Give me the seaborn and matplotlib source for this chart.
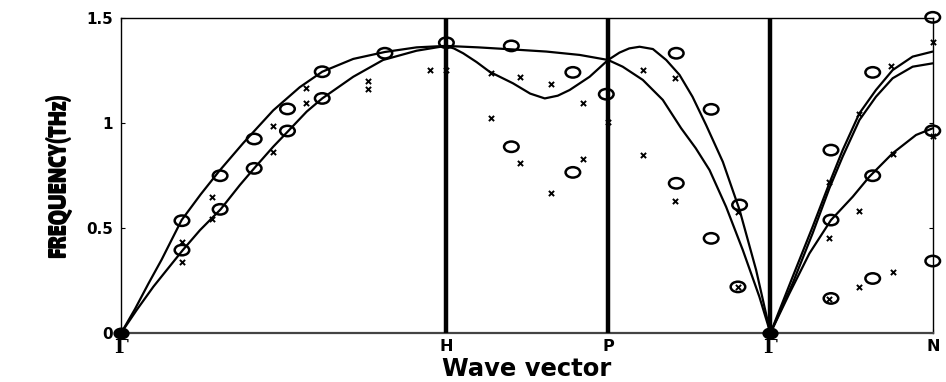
import matplotlib
matplotlib.use('Agg')
import matplotlib.pyplot as plt
import seaborn as sns
from matplotlib import font_manager
from matplotlib.path import Path
from matplotlib.transforms import Affine2D

sns.set_style('ticks')
plt.rcParams['font.family'] = ['DejaVu Sans']
plt.rcParams['text.color'] = 'black'
plt.rcParams['axes.labelcolor'] = 'black'
plt.rcParams['xtick.color'] = 'black'
plt.rcParams['ytick.color'] = 'black'

# symmetry points along the path
sym_pos = [0, 2, 3, 4, 5]
sym_labels = ['Γ', 'H', 'P', 'Γ', 'N']
sym_lines = [2, 3, 4]

# calculated branches
gh_up_x = [0, 0.086, 0.168, 0.25, 0.312, 0.373, 0.49, 0.603, 0.753, 0.937, 1.10, 1.239, 1.43, 1.625, 1.82, 2.0]
gh_up_y = [0, 0.115, 0.235, 0.35, 0.445, 0.538, 0.66, 0.77, 0.905, 1.06, 1.17, 1.244, 1.305, 1.338, 1.36, 1.367]
gh_lo_x = [0, 0.096, 0.199, 0.281, 0.38, 0.486, 0.613, 0.732, 0.825, 0.937, 1.03, 1.143, 1.239, 1.43, 1.614, 1.82, 2.0]
gh_lo_y = [0, 0.11, 0.221, 0.30, 0.395, 0.49, 0.589, 0.705, 0.789, 0.887, 0.962, 1.054, 1.117, 1.22, 1.30, 1.344, 1.367]

hp_a_x = [2.0, 2.2, 2.394, 2.62, 2.825, 3.0]
hp_a_y = [1.367, 1.36, 1.351, 1.34, 1.324, 1.30]
hp_b_x = [2.0, 2.05, 2.107, 2.19, 2.27, 2.414, 2.52, 2.61, 2.69, 2.763, 2.886, 3.0]
hp_b_y = [1.367, 1.355, 1.332, 1.29, 1.244, 1.189, 1.14, 1.117, 1.13, 1.157, 1.22, 1.30]

pg_a_x = [3.0, 3.07, 3.13, 3.194, 3.276, 3.358, 3.44, 3.52, 3.604, 3.707, 3.81, 3.912, 4.0]
pg_a_y = [1.30, 1.335, 1.355, 1.363, 1.352, 1.30, 1.229, 1.125, 0.99, 0.815, 0.586, 0.30, 0]
pg_b_x = [3.0, 3.09, 3.214, 3.337, 3.45, 3.54, 3.625, 3.727, 3.83, 3.932, 4.0]
pg_b_y = [1.30, 1.268, 1.205, 1.11, 0.975, 0.88, 0.776, 0.601, 0.395, 0.173, 0]

gn_1_x = [4.0, 4.137, 4.26, 4.363, 4.445, 4.548, 4.65, 4.753, 4.876, 5.0]
gn_1_y = [0, 0.268, 0.506, 0.713, 0.871, 1.046, 1.157, 1.252, 1.316, 1.34]
gn_2_x = [4.0, 4.137, 4.26, 4.363, 4.445, 4.548, 4.65, 4.753, 4.876, 5.0]
gn_2_y = [0, 0.237, 0.475, 0.689, 0.84, 1.014, 1.125, 1.213, 1.268, 1.284]
gn_3_x = [4.0, 4.117, 4.24, 4.373, 4.507, 4.609, 4.753, 4.897, 5.0]
gn_3_y = [0, 0.189, 0.379, 0.538, 0.649, 0.744, 0.856, 0.943, 0.975]

branches = [(gh_up_x, gh_up_y), (gh_lo_x, gh_lo_y), (hp_a_x, hp_a_y), (hp_b_x, hp_b_y),
            (pg_a_x, pg_a_y), (pg_b_x, pg_b_y), (gn_1_x, gn_1_y), (gn_2_x, gn_2_y),
            (gn_3_x, gn_3_y)]

# experimental points, set 1 (circles)
circ_x = [0.375, 0.375, 0.61, 0.61, 0.82, 0.82, 1.025, 1.025, 1.239, 1.239, 1.625, 2.004,
          2.404, 2.783, 2.404, 2.783, 2.989, 3.42, 3.635, 3.42, 3.81, 3.635, 3.80,
          4.63, 4.373, 4.63, 4.373, 4.63, 4.373, 5.0, 5.0, 5.0]
circ_y = [0.535, 0.395, 0.749, 0.589, 0.924, 0.784, 1.067, 0.962, 1.244, 1.117, 1.332, 1.382,
          1.367, 1.241, 0.887, 0.765, 1.137, 1.332, 1.065, 0.713, 0.61, 0.451, 0.22,
          1.241, 0.871, 0.749, 0.538, 0.26, 0.165, 1.503, 0.963, 0.343]

# experimental points, set 2 (crosses)
crs_x = [0.373, 0.373, 0.562, 0.562, 0.937, 0.937, 1.137, 1.137, 1.522, 1.522, 1.902, 2.004,
         2.281, 2.455, 2.65, 2.845, 2.281, 2.455, 2.845, 2.65, 2.999, 3.214, 3.41, 3.214,
         3.41, 3.80, 3.80, 5.0, 4.743, 4.544, 4.363, 4.363, 4.544, 4.753, 5.0, 4.544, 4.753, 4.363]
crs_y = [0.435, 0.34, 0.646, 0.541, 0.986, 0.864, 1.165, 1.094, 1.202, 1.162, 1.252, 1.252,
         1.236, 1.217, 1.186, 1.094, 1.022, 0.811, 0.829, 0.668, 1.006, 1.252, 1.216, 0.848,
         0.629, 0.578, 0.22, 1.384, 1.273, 1.043, 0.718, 0.451, 0.581, 0.851, 0.94, 0.22, 0.289, 0.16]

# zone-centre points
gam_x = [0, 4]
gam_y = [0, 0]


def narrow_bold_font():
    # look for a condensed / narrow bold sans face for the y label
    best = None
    for f in font_manager.fontManager.ttflist:
        narrow = (str(f.stretch) in ('condensed', 'semi-condensed', 'extra-condensed', '75', '87')
                  or 'Narrow' in f.name or 'Condensed' in f.name)
        if not narrow or 'Serif' in f.name or 'Mono' in f.name:
            continue
        w = f.weight if isinstance(f.weight, int) else (700 if 'bold' in str(f.weight) else 400)
        if best is None or w > best[0]:
            best = (w, f.fname)
    return best


fig = plt.figure(figsize=(9.46, 3.82), dpi=100)
ax = fig.add_axes([0.128, 0.128, 0.858, 0.825])

for xs, ys in branches:
    sns.lineplot(x=xs, y=ys, ax=ax, sort=False, estimator=None, color='black', lw=1.6)

for p in sym_lines:
    ax.axvline(p, color='black', lw=3.2, zorder=3)

ell = Path.unit_circle().transformed(Affine2D().scale(1.4, 1.0))
sns.scatterplot(x=circ_x, y=circ_y, ax=ax, marker=ell, s=110, facecolor='none',
                edgecolor='black', linewidth=1.8, clip_on=False, zorder=4)
sns.scatterplot(x=crs_x, y=crs_y, ax=ax, marker='x', s=14, color='black',
                linewidth=1.4, clip_on=False, zorder=4)
sns.scatterplot(x=gam_x, y=gam_y, ax=ax, marker=ell, s=110, color='black',
                edgecolor='black', linewidth=1.2, clip_on=False, zorder=5)

ax.set_xlim(0, 5)
ax.set_ylim(0, 1.5)
ax.set_xticks(sym_pos)
ax.set_xticklabels(sym_labels)
ax.set_yticks([0, 0.5, 1, 1.5])
ax.set_yticklabels(['0', '0.5', '1', '1.5'])
ax.tick_params(direction='in', top=True, right=True, length=3, width=0.8)
ax.tick_params(axis='x', pad=4.5)
ax.tick_params(axis='y', pad=6)
for lab in ax.get_yticklabels():
    lab.set_fontsize(11)
    lab.set_fontweight('bold')
for lab in ax.get_xticklabels():
    lab.set_fontweight('bold')
    if lab.get_text() == 'Γ':
        lab.set_family(['DejaVu Serif', 'Liberation Serif'])
        lab.set_fontsize(14)
    else:
        lab.set_fontsize(11.5)

for sp in ax.spines.values():
    sp.set_color('black')
    sp.set_linewidth(1.0)
ax.spines['bottom'].set_color('#444444')
ax.spines['bottom'].set_linewidth(1.6)

ax.set_xlabel('Wave vector', fontsize=17.5, fontweight='bold')
ax.xaxis.label.set_va('bottom')
ax.xaxis.set_label_coords(0.5, -0.152)

nb = narrow_bold_font()
if nb is not None:
    fp = font_manager.FontProperties(fname=nb[1], size=19, weight='bold')
    ax.set_ylabel('FREQUENCY(THz)', fontproperties=fp, labelpad=10)
else:
    ax.set_ylabel('FREQUENCY(THz)', fontsize=14, fontweight='bold', labelpad=14,
                  family=['Liberation Sans', 'DejaVu Sans'])

fig.savefig('out.png', dpi=100)
